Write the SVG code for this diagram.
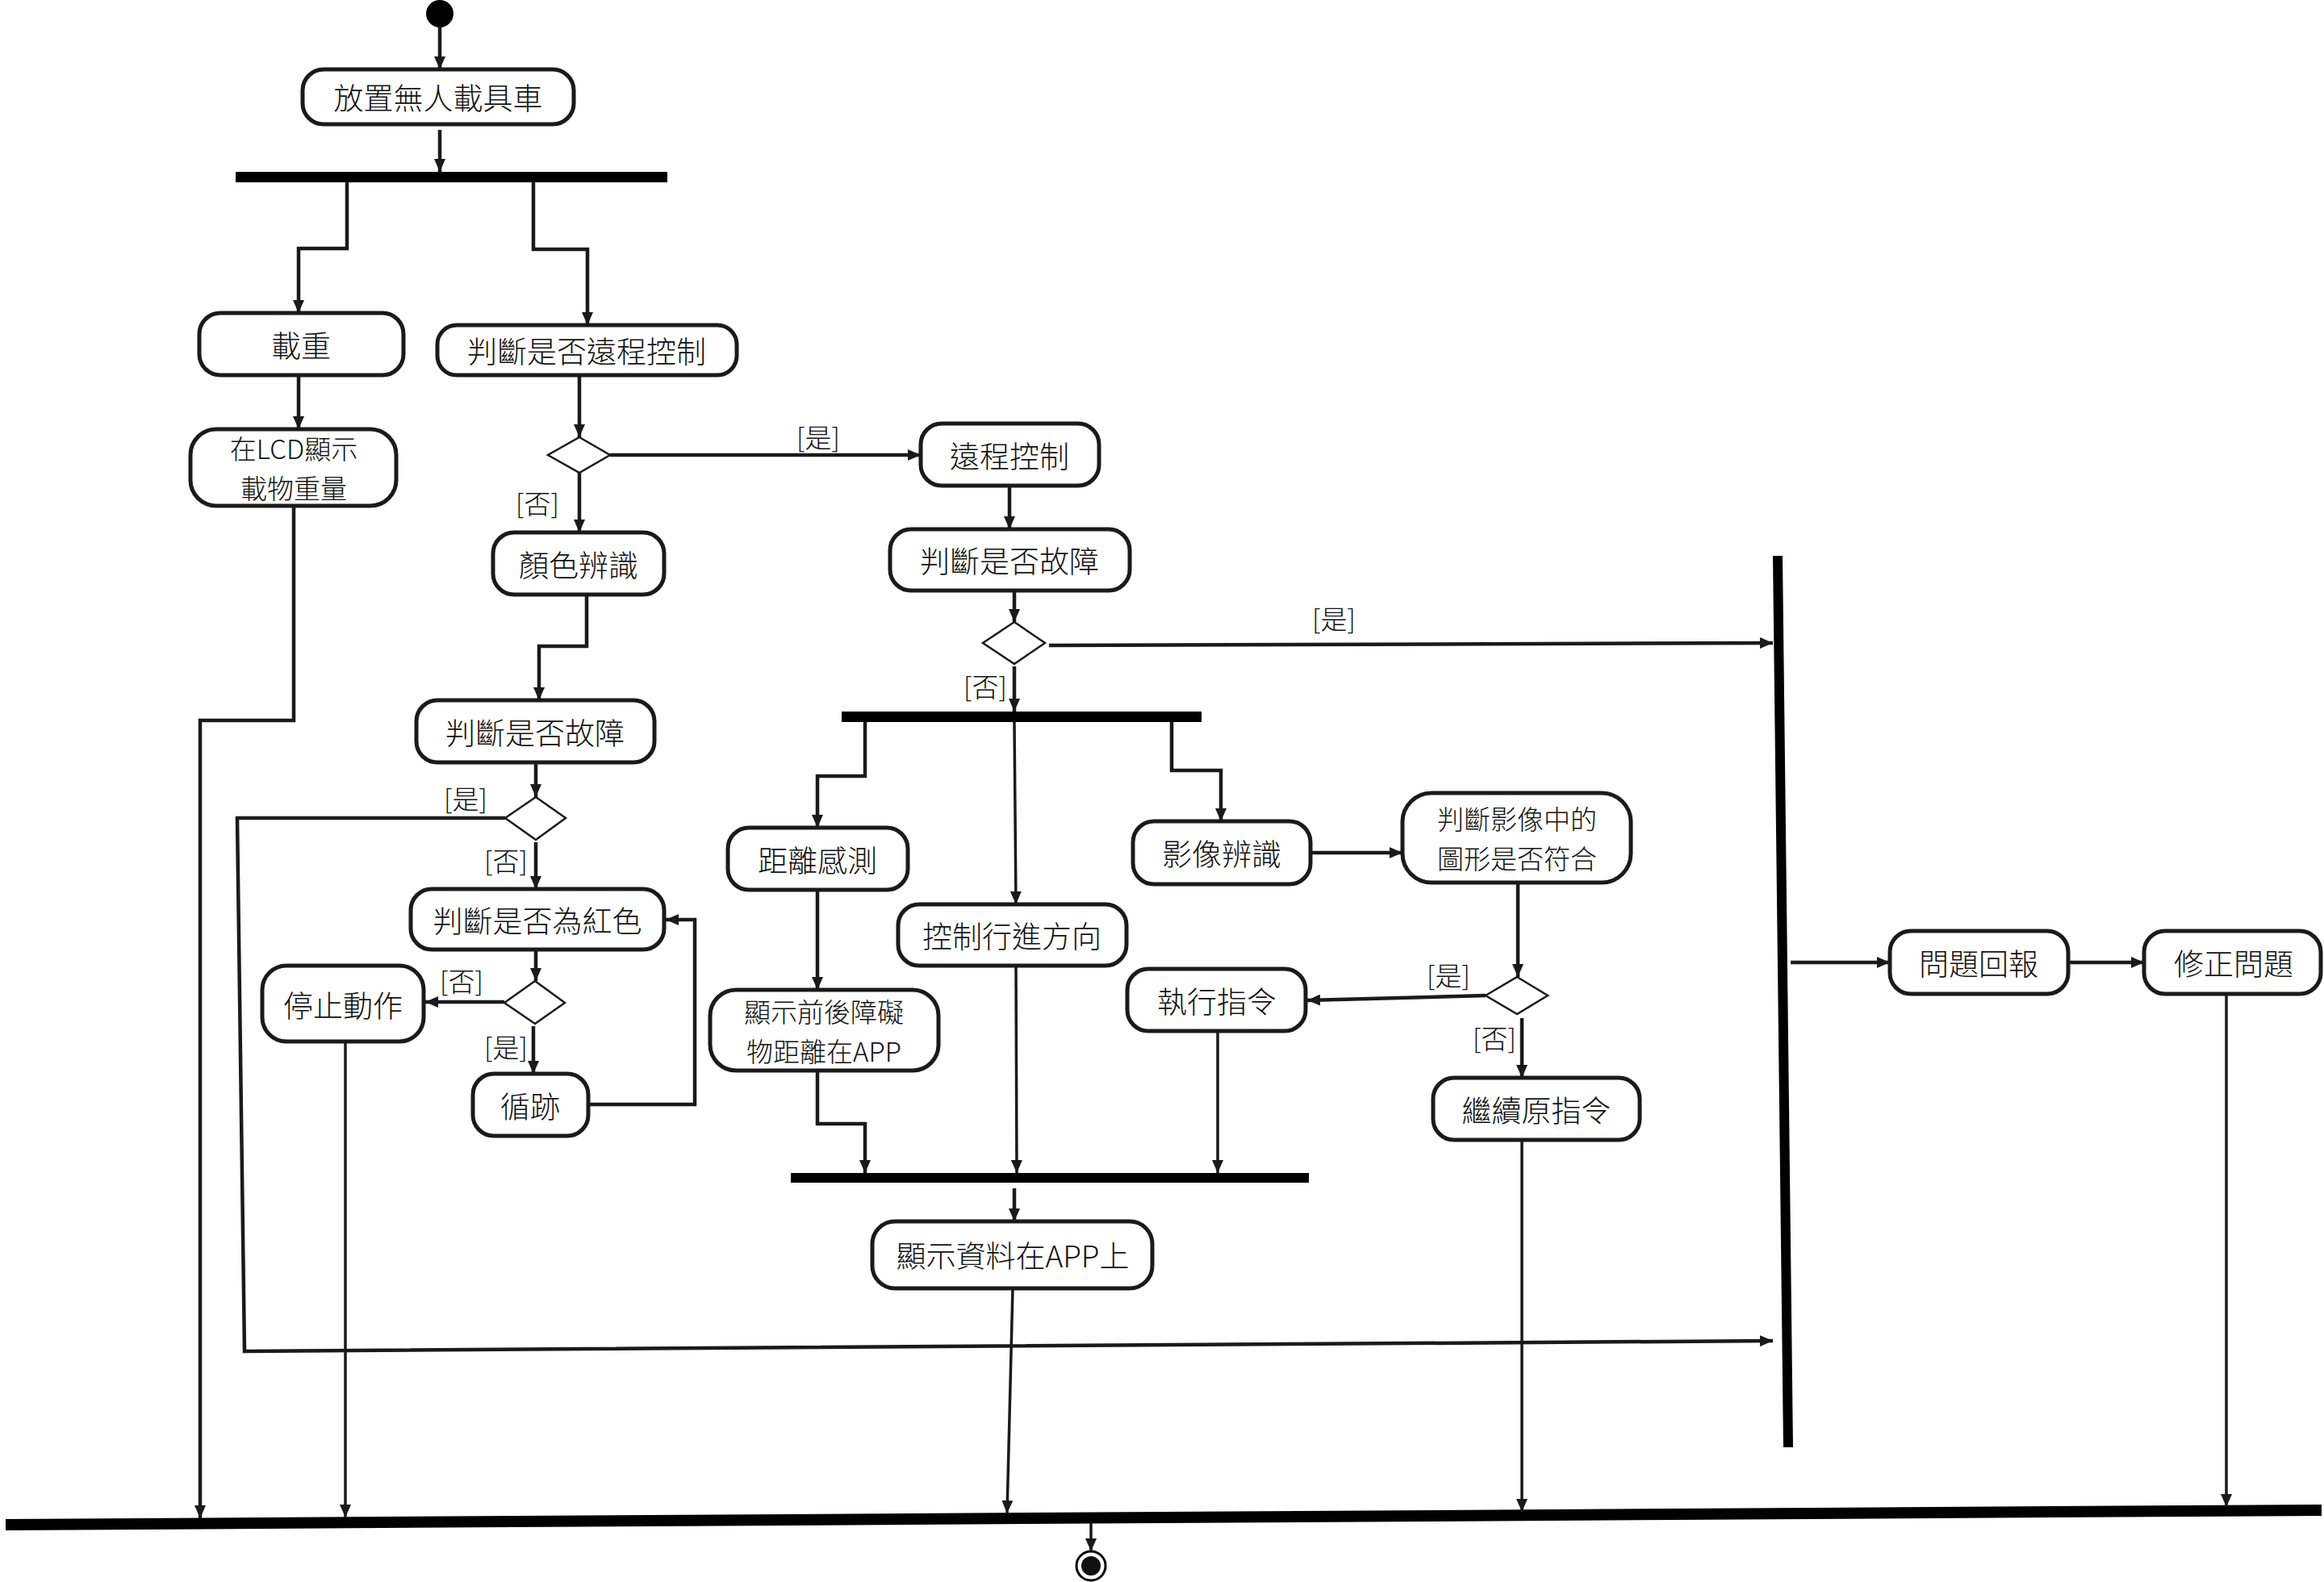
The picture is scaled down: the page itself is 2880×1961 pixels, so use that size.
<svg xmlns="http://www.w3.org/2000/svg" width="2880" height="1961" viewBox="0 0 2880 1961">
<defs>
<style>
.box{fill:#fff;stroke:#1a1a1a;stroke-width:5}
.dia{fill:#fff;stroke:#1a1a1a;stroke-width:2.5}
.t{font-family:"Noto Sans CJK TC","Noto Sans",sans-serif;font-size:37px;font-weight:300;fill:#111;text-anchor:middle;dominant-baseline:central}
.t2{font-size:33px}
.lb{font-family:"Noto Sans CJK TC","Noto Sans",sans-serif;font-size:33px;font-weight:300;fill:#111;text-anchor:middle;dominant-baseline:central}
.c{fill:none;stroke:#1a1a1a;stroke-width:4.5;marker-end:url(#arr)}
.cn{fill:none;stroke:#1a1a1a;stroke-width:3.5;marker-end:url(#arr)}
.bar{fill:#000}
</style>
<marker id="arr" markerUnits="userSpaceOnUse" markerWidth="16" markerHeight="14" refX="16" refY="7" orient="auto">
<path d="M0,0 L16,7 L0,14 z" fill="#1a1a1a"/>
</marker>
</defs>
<rect width="2880" height="1961" fill="#fff"/>

<g id="start"><circle cx="545" cy="17" r="17" fill="#000"/></g>
<g id="end"><circle cx="1352" cy="1941" r="18" fill="#fff" stroke="#000" stroke-width="3"/><circle cx="1352" cy="1941" r="12" fill="#111"/></g>

<g id="bars">
<rect id="fork1" class="bar" x="292" y="213" width="535" height="13"/>
<rect id="fork2" class="bar" x="1043" y="882" width="446" height="13"/>
<rect id="join3" class="bar" x="980" y="1454" width="642" height="12"/>
<line id="vbar" x1="2203" y1="689" x2="2216" y2="1794" stroke="#000" stroke-width="12"/>
<line id="joinbottom" x1="7" y1="1890" x2="2877" y2="1872" stroke="#000" stroke-width="14"/>
</g>

<g id="nodes">
<g id="n1"><rect class="box" x="375" y="86" width="336" height="68" rx="26"/><text class="t" x="543" y="120">放置無人載具車</text></g>
<g id="n2"><rect class="box" x="247" y="388" width="253" height="77" rx="26"/><text class="t" x="373" y="427">載重</text></g>
<g id="n3"><rect class="box" x="542" y="403" width="371" height="62" rx="24"/><text class="t" x="727" y="434">判斷是否遠程控制</text></g>
<g id="n4"><rect class="box" x="236" y="532" width="255" height="95" rx="32"/><text class="t t2" x="364" y="555">在LCD顯示</text><text class="t t2" x="364" y="604">載物重量</text></g>
<g id="n5"><rect class="box" x="611" y="660" width="212" height="77" rx="26"/><text class="t" x="717" y="699">顏色辨識</text></g>
<g id="n6"><rect class="box" x="516" y="868" width="295" height="77" rx="26"/><text class="t" x="663" y="907">判斷是否故障</text></g>
<g id="n7"><rect class="box" x="509" y="1102" width="314" height="75" rx="26"/><text class="t" x="666" y="1140">判斷是否為紅色</text></g>
<g id="n8"><rect class="box" x="325" y="1197" width="200" height="94" rx="30"/><text class="t" x="425" y="1245">停止動作</text></g>
<g id="n9"><rect class="box" x="586" y="1331" width="143" height="77" rx="26"/><text class="t" x="657" y="1370">循跡</text></g>
<g id="n10"><rect class="box" x="1141" y="525" width="221" height="77" rx="26"/><text class="t" x="1251" y="564">遠程控制</text></g>
<g id="n11"><rect class="box" x="1103" y="656" width="297" height="76" rx="26"/><text class="t" x="1251" y="694">判斷是否故障</text></g>
<g id="n12"><rect class="box" x="902" y="1026" width="223" height="77" rx="26"/><text class="t" x="1013" y="1065">距離感測</text></g>
<g id="n13"><rect class="box" x="880" y="1227" width="283" height="100" rx="32"/><text class="t t2" x="1021" y="1253">顯示前後障礙</text><text class="t t2" x="1021" y="1302">物距離在APP</text></g>
<g id="n14"><rect class="box" x="1113" y="1121" width="283" height="76" rx="26"/><text class="t" x="1254" y="1159">控制行進方向</text></g>
<g id="n15"><rect class="box" x="1404" y="1018" width="220" height="78" rx="26"/><text class="t" x="1514" y="1057">影像辨識</text></g>
<g id="n16"><rect class="box" x="1738" y="983" width="283" height="111" rx="36"/><text class="t t2" x="1880" y="1014">判斷影像中的</text><text class="t t2" x="1880" y="1063">圖形是否符合</text></g>
<g id="n17"><rect class="box" x="1397" y="1201" width="221" height="77" rx="26"/><text class="t" x="1508" y="1240">執行指令</text></g>
<g id="n18"><rect class="box" x="1776" y="1336" width="256" height="77" rx="26"/><text class="t" x="1904" y="1375">繼續原指令</text></g>
<g id="n19"><rect class="box" x="1081" y="1514" width="347" height="83" rx="28"/><text class="t" x="1255" y="1555">顯示資料在APP上</text></g>
<g id="n20"><rect class="box" x="2342" y="1154" width="221" height="78" rx="26"/><text class="t" x="2452" y="1193">問題回報</text></g>
<g id="n21"><rect class="box" x="2657" y="1154" width="219" height="78" rx="26"/><text class="t" x="2768" y="1193">修正問題</text></g>
<g id="d1"><polygon class="dia" points="718,542 756,564 718,586 679,564"/></g>
<g id="d2"><polygon class="dia" points="1257,771 1295,797 1257,823 1218,797"/></g>
<g id="d3"><polygon class="dia" points="664,988 701,1014 664,1041 626,1014"/></g>
<g id="d4"><polygon class="dia" points="663,1216 700,1243 663,1269 625,1243"/></g>
<g id="d5"><polygon class="dia" points="1880,1211 1918,1234 1880,1257 1841,1234"/></g>
</g>

<g id="connectors">
<path class="c" d="M545,34 V86"/>
<path class="c" d="M545,161 V213"/>
<path class="c" d="M430,226 V308 H370 V388"/>
<path class="c" d="M661,226 V309 H728 V403"/>
<path class="c" d="M370,465 V532"/>
<path class="c" d="M718,465 V542"/>
<path class="c" d="M756,564 H1141"/>
<path class="c" d="M718,586 V660"/>
<path class="c" d="M364,627 V893 H248 V1882"/>
<path class="c" d="M727,737 V801 H668 V868"/>
<path class="c" d="M664,945 V988"/>
<path class="c" d="M626,1014 H294 L303,1675 L2197,1662"/>
<path class="c" d="M664,1044 V1102"/>
<path class="c" d="M664,1177 V1216"/>
<path class="c" d="M625,1242 H527"/>
<path class="c" d="M661,1272 V1331"/>
<path class="c" d="M729,1369 H861 V1140 H825"/>
<path class="cn" d="M428,1291 V1881"/>
<path class="c" d="M1251,602 V656"/>
<path class="c" d="M1257,732 V771"/>
<path class="c" d="M1257,826 V882"/>
<path class="c" d="M1300,800 L2197,797"/>
<path class="c" d="M1072,895 V962 H1013 V1026"/>
<path class="cn" d="M1257,895 L1259,1121"/>
<path class="c" d="M1452,895 V955 H1513 V1018"/>
<path class="c" d="M1013,1103 V1227"/>
<path class="c" d="M1013,1327 V1393 H1072 V1454"/>
<path class="cn" d="M1259,1197 L1260,1454"/>
<path class="cn" d="M1509,1278 V1454"/>
<path class="c" d="M1624,1057 H1738"/>
<path class="c" d="M1881,1094 V1211"/>
<path class="c" d="M1841,1234 L1620,1240"/>
<path class="c" d="M1886,1262 V1336"/>
<path class="cn" d="M1886,1413 V1874"/>
<path class="c" d="M1257,1473 V1514"/>
<path class="cn" d="M1255,1597 L1248,1876"/>
<path class="c" d="M2219,1193 H2342"/>
<path class="c" d="M2563,1193 H2657"/>
<path class="cn" d="M2759,1232 V1868"/>
<path class="cn" d="M1352,1887 V1923"/>
</g>

<g id="labels">
<text class="lb" x="1014" y="541">[是]</text>
<text class="lb" x="666" y="623">[否]</text>
<text class="lb" x="1653" y="766">[是]</text>
<text class="lb" x="1221" y="850">[否]</text>
<text class="lb" x="577" y="989">[是]</text>
<text class="lb" x="627" y="1066">[否]</text>
<text class="lb" x="572" y="1215">[否]</text>
<text class="lb" x="627" y="1297">[是]</text>
<text class="lb" x="1795" y="1208">[是]</text>
<text class="lb" x="1852" y="1286">[否]</text>
</g>
</svg>
